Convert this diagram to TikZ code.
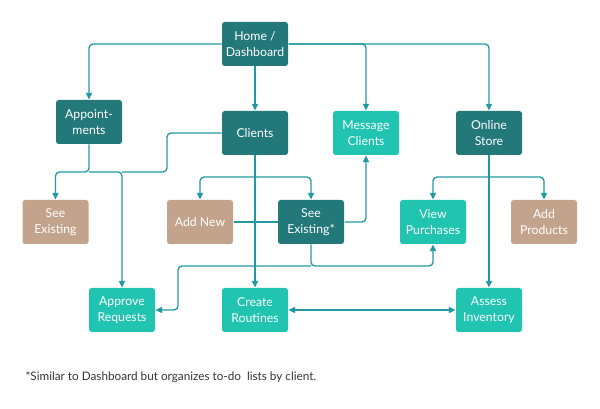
\documentclass[tikz,border=0pt]{standalone}
\usepackage{fontspec}
\setmainfont{Lato}
\usetikzlibrary{arrows.meta}

\definecolor{darkteal}{RGB}{35,120,122}
\definecolor{brightteal}{RGB}{32,196,176}
\definecolor{tan}{RGB}{196,163,140}
\definecolor{linkteal}{RGB}{33,153,163}
\definecolor{notegray}{RGB}{51,51,51}

\tikzset{every picture/.style={line width=0.75pt}}
\tikzset{
  box/.style={rounded corners=2pt, minimum width=49.5pt, minimum height=33pt, inner sep=0pt,
    text=white, align=center, font=\fontsize{9.2}{12}\selectfont},
  darkbox/.style={box, fill=darkteal},
  brightbox/.style={box, fill=brightteal},
  tanbox/.style={box, fill=tan},
  link/.style={draw=linkteal, line width=1pt, rounded corners=3pt, -{Triangle[length=5pt,width=4.5pt]}},
  plainlink/.style={draw=linkteal, line width=1pt, rounded corners=3pt},
}

\begin{document}
\begin{tikzpicture}[x=0.75pt,y=0.75pt,yscale=-1,xscale=1]
\useasboundingbox (0,0) rectangle (600,409);

% Boxes, top row
\draw (255,44) node [darkbox] (home) {Home /\\Dashboard};
\draw (89,122) node [darkbox] (appt) {Appoint-\\ments};
\draw (255,133) node [darkbox] (clients) {Clients};
\draw (366,133) node [brightbox] (msg) {Message\\Clients};
\draw (489,133) node [darkbox] (store) {Online\\Store};

% Boxes, middle row
\draw (55.5,222) node [tanbox] (seeold) {See\\Existing};
\draw (200,222) node [tanbox] (addnew) {Add New};
\draw (311,222) node [darkbox] (seeclient) {See\\Existing*};
\draw (433,222) node [brightbox] (purch) {View\\Purchases};
\draw (544,222) node [tanbox] (addprod) {Add\\Products};

% Boxes, bottom row
\draw (122,310) node [brightbox] (approve) {Approve\\Requests};
\draw (255,310) node [brightbox] (routines) {Create\\Routines};
\draw (489,310) node [brightbox] (inventory) {Assess\\Inventory};

% Forks
\coordinate (apptfork) at (89,172);
\coordinate (clientsbend) at (167,172);
\coordinate (clientfork) at (255,177);
\coordinate (storefork) at (489,177);
\coordinate (sefork) at (311,266);
\coordinate (sebend) at (178,266);

% From Home
\draw [link] (home.west) -| (appt.north);
\draw [link] (home.east) -| (store.north);
\draw [link] (home.east) -| (msg.north);
\draw [link] (home.south) -- (clients.north);

% From Appointments
\draw [link] (appt.south) -- (apptfork) -| (seeold.north);
\draw [link] (apptfork) -| (approve.north);

% From Clients
\draw [plainlink] (clients.west) -| (clientsbend) -- (clientsbend -| approve.north);
\draw [link] (clients.south) -- (routines.north);
\draw [link] (clientfork) -| (addnew.north);
\draw [link] (clientfork) -| (seeclient.north);

% From See Existing*
\draw [plainlink] (addnew.east) -- (seeclient.west);
\draw [link] (seeclient.east) -| (msg.south);
\draw [link] (seeclient.south) -- (sefork) -| (purch.south);
\draw [link] (sefork) -- (sebend) |- (approve.east);

% From Online Store
\draw [link] (store.south) -- (inventory.north);
\draw [link] (storefork) -| (purch.north);
\draw [link] (storefork) -| (addprod.north);

% Routines and Inventory
\draw [link, {Triangle[length=5pt,width=4.5pt]}-{Triangle[length=5pt,width=4.5pt]}] (routines.east) -- (inventory.west);

% Text Node
\draw (25,377) node [anchor=west, inner sep=0pt, text=notegray, font=\fontsize{8.8}{10}\selectfont] (note) {*Similar to Dashboard but organizes to-do\ \ lists by client.};

\end{tikzpicture}
\end{document}
